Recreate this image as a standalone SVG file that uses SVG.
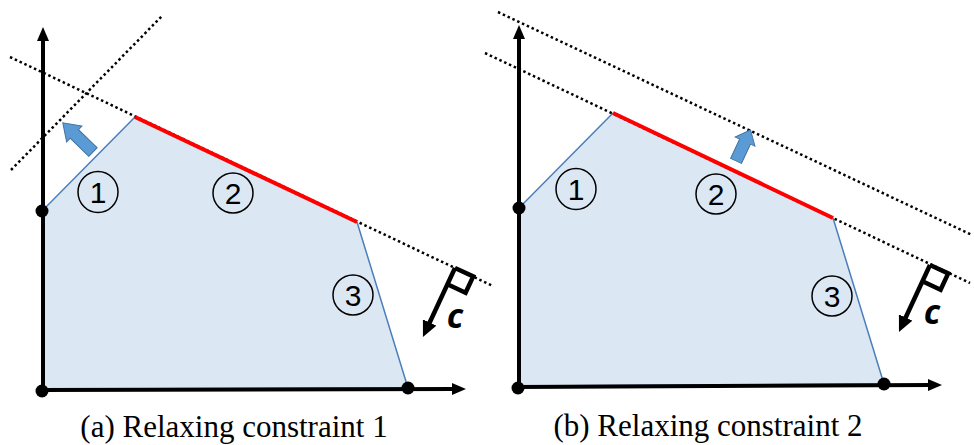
<svg xmlns="http://www.w3.org/2000/svg" width="974" height="445" viewBox="0 0 974 445">
<style>
.region{fill:#DCE7F4;stroke:none}
.edge{fill:none;stroke:#4A7EBB;stroke-width:1.5}
.active{stroke:#FF0000;stroke-width:4;fill:none}
.dot{fill:none;stroke:#000;stroke-width:2.5;stroke-dasharray:2.5 2.8}
.axis{stroke:#000;stroke-width:4;fill:none}
.vtx{fill:#000}
.circ{fill:none;stroke:#000;stroke-width:1.5}
.num{font-family:"Liberation Sans",Arial,sans-serif;font-size:30px;text-anchor:middle;fill:#000}
.cvec{stroke:#000;stroke-width:4.5;fill:none;stroke-linejoin:miter}
.clab{font-family:"Open Sans","Liberation Sans",sans-serif;font-style:italic;font-weight:bold;font-size:34px;text-anchor:middle;fill:#000}
.move{fill:#5B9BD5;stroke:#41719C;stroke-width:1}
.cap{font-family:"Liberation Serif","Times New Roman",serif;font-size:31px;text-anchor:middle;fill:#000}
</style>
<defs>
<marker id="ah" viewBox="0 0 14 12" refX="4" refY="6" markerWidth="14" markerHeight="12" markerUnits="userSpaceOnUse" orient="auto">
<path d="M0,0 L14,6 L0,12 z" fill="#000"/>
</marker>
<marker id="ch" viewBox="0 0 16 15" refX="5" refY="7.5" markerWidth="16" markerHeight="15" markerUnits="userSpaceOnUse" orient="auto">
<path d="M0,0 L16,7.5 L0,15 z" fill="#000"/>
</marker>
<polygon id="blk" points="0,-6 26,-6 26,-11 42,0 26,11 26,6 0,6"/>
</defs>

<g id="panel-a">
<g id="a-region">
<polygon class="region" points="42,211 135,117 357,222 408,388 42,389"/>
<polyline class="edge" points="42,389 42,211 135,117"/>
<polyline class="edge" points="357,222 408,388 42,389"/>
</g>
<g id="a-connectors">
<line class="dot" x1="10" y1="57" x2="493" y2="286"/>
<line class="dot" x1="11" y1="170" x2="163" y2="15"/>
<line class="active" x1="135" y1="117" x2="357" y2="222"/>
<line class="axis" x1="43" y1="393" x2="43" y2="37" marker-end="url(#ah)"/>
<line class="axis" x1="40" y1="390" x2="456" y2="389" marker-end="url(#ah)"/>
</g>
<g id="a-vertices">
<circle class="vtx" cx="42" cy="211" r="6.5"/>
<circle class="vtx" cx="42" cy="391" r="6.5"/>
<circle class="vtx" cx="408" cy="388" r="6.5"/>
</g>
<g id="a-c1"><ellipse class="circ" cx="98" cy="192" rx="20" ry="20.5"/><text class="num" x="98" y="203">1</text></g>
<g id="a-c2"><ellipse class="circ" cx="233" cy="193" rx="20" ry="20"/><text class="num" x="233" y="204">2</text></g>
<g id="a-c3"><ellipse class="circ" cx="353" cy="295" rx="20" ry="20"/><text class="num" x="353" y="306">3</text></g>
<g id="a-move"><use href="#blk" class="move" transform="translate(93,152) rotate(-136)"/></g>
<g id="a-c">
<polyline class="cvec" points="455,268 473.2,276.4 465.6,292.7 447.4,284.3"/>
<line class="cvec" x1="455" y1="268" x2="427.6" y2="327" marker-end="url(#ch)"/>
<text class="clab" x="455" y="328">c</text>
</g>
<text class="cap" x="234" y="437">(a) Relaxing constraint 1</text>
</g>

<g id="panel-b">
<g id="b-region">
<polygon class="region" points="519,208 613,113 833,218 884,384 519,386"/>
<polyline class="edge" points="519,386 519,208 613,113"/>
<polyline class="edge" points="833,218 884,384 519,386"/>
</g>
<g id="b-connectors">
<line class="dot" x1="485" y1="53" x2="970" y2="283"/>
<line class="dot" x1="498" y1="12" x2="972" y2="235"/>
<line class="active" x1="613" y1="113" x2="833" y2="218"/>
<line class="axis" x1="519" y1="390" x2="519" y2="35" marker-end="url(#ah)"/>
<line class="axis" x1="516" y1="387" x2="932" y2="385" marker-end="url(#ah)"/>
</g>
<g id="b-vertices">
<circle class="vtx" cx="519" cy="208" r="6.5"/>
<circle class="vtx" cx="518" cy="388" r="6.5"/>
<circle class="vtx" cx="884" cy="384" r="6.5"/>
</g>
<g id="b-c1"><ellipse class="circ" cx="576" cy="189" rx="20" ry="20.5"/><text class="num" x="576" y="200">1</text></g>
<g id="b-c2"><ellipse class="circ" cx="716" cy="194" rx="20" ry="20"/><text class="num" x="716" y="205">2</text></g>
<g id="b-c3"><ellipse class="circ" cx="832" cy="296" rx="20" ry="20"/><text class="num" x="832" y="307">3</text></g>
<g id="b-move"><use href="#blk" class="move" transform="translate(736,161) rotate(-65) scale(0.82,1)"/></g>
<g id="b-c">
<polyline class="cvec" points="930,265 948.2,273.4 940.6,289.7 922.4,281.3"/>
<line class="cvec" x1="930" y1="265" x2="903.6" y2="322" marker-end="url(#ch)"/>
<text class="clab" x="932" y="324">c</text>
</g>
<text class="cap" x="708" y="436">(b) Relaxing constraint 2</text>
</g>
</svg>
